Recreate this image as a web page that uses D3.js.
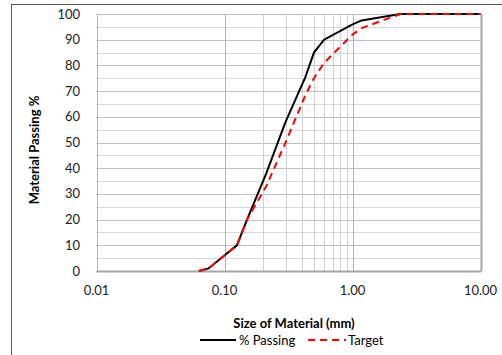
<!DOCTYPE html>
<html>
<head>
<meta charset="utf-8">
<script src="https://cdn.jsdelivr.net/npm/d3@7"></script>
<style>
  body { margin: 0; background: #fff; }
  svg { font-family: Lato, "Open Sans", sans-serif; }
</style>
</head>
<body>
<svg id="chart" width="502" height="355"></svg>
<script>
// sieve sizes (mm) and % passing
const passingSizes = [0.063, 0.075, 0.125, 0.15, 0.212, 0.3, 0.425, 0.5, 0.6, 1.0, 1.18, 2.36, 10]
const passingValues = [0, 1, 10, 20, 38, 58, 75, 85, 90, 96, 97.5, 100, 100]

const targetSizes = [0.063, 0.075, 0.125, 0.15, 0.212, 0.3, 0.425, 0.5, 0.6, 1.0, 1.18, 2.36, 10]
const targetValues = [0, 1, 10, 20, 33, 50, 68, 75, 81, 92, 94.5, 100, 100]

const xTicks = [0.01, 0.1, 1, 10]
const xMinor = [0.2, 0.3, 0.4, 0.5, 0.6, 0.7, 0.8, 0.9]
const yTicks = d3.range(0, 101, 10)
const yMinor = d3.range(5, 100, 10)

const svg = d3.select('#chart')

// outer chart frame
svg.append('rect')
    .attr('x', 11.5).attr('y', 4.5)
    .attr('width', 520).attr('height', 400)
    .attr('fill', 'none')
    .attr('stroke', '#595959')
    .attr('stroke-width', 1)

const x = d3.scaleLog().domain([0.01, 10]).range([96.5, 480.5])
const y = d3.scaleLinear().domain([0, 100]).range([271, 14])

const grid = svg.append('g')

grid.selectAll('.hminor')
    .data(yMinor)
    .enter()
    .append('line')
    .attr('x1', x(0.01)).attr('x2', x(10))
    .attr('y1', (d) => Math.round(y(d)) + 0.5)
    .attr('y2', (d) => Math.round(y(d)) + 0.5)
    .attr('stroke', '#d9d9d9')

grid.selectAll('.hmajor')
    .data(yTicks)
    .enter()
    .append('line')
    .attr('x1', x(0.01)).attr('x2', x(10))
    .attr('y1', (d) => Math.round(y(d)) + 0.5)
    .attr('y2', (d) => Math.round(y(d)) + 0.5)
    .attr('stroke', '#bfbfbf')

grid.selectAll('.vminor')
    .data(xMinor)
    .enter()
    .append('line')
    .attr('x1', (d) => Math.round(x(d)) + 0.5)
    .attr('x2', (d) => Math.round(x(d)) + 0.5)
    .attr('y1', y(0)).attr('y2', y(100))
    .attr('stroke', '#d0d0d0')

grid.selectAll('.vmajor')
    .data(xTicks)
    .enter()
    .append('line')
    .attr('x1', (d) => Math.round(x(d)) + 0.5)
    .attr('x2', (d) => Math.round(x(d)) + 0.5)
    .attr('y1', y(0)).attr('y2', y(100))
    .attr('stroke', (d) => d === 10 ? '#a6a6a6' : '#b0b0b0')
    .attr('stroke-width', (d) => d === 10 ? 2 : 1)

// bottom axis line
svg.append('line')
    .attr('x1', x(0.01)).attr('x2', x(10) + 1)
    .attr('y1', y(0) + 0.5).attr('y2', y(0) + 0.5)
    .attr('stroke', '#a6a6a6')
    .attr('stroke-width', 2)

// tick labels
svg.append('g').selectAll('text')
    .data(yTicks)
    .enter()
    .append('text')
    .attr('x', 80)
    .attr('y', (d) => y(d) + 4.5)
    .attr('text-anchor', 'end')
    .attr('font-size', 13)
    .attr('fill', '#222')
    .text((d) => d)

svg.append('g').selectAll('text')
    .data(xTicks)
    .enter()
    .append('text')
    .attr('x', (d) => x(d))
    .attr('y', 295)
    .attr('text-anchor', 'middle')
    .attr('font-size', 13)
    .attr('fill', '#222')
    .text((d) => d3.format('.2f')(d))

// axis titles
svg.append('text')
    .attr('x', 294)
    .attr('y', 328)
    .attr('text-anchor', 'middle')
    .attr('font-size', 13)
    .attr('font-weight', 'bold')
    .text('Size of Material (mm)')

svg.append('text')
    .attr('transform', 'translate(39, 150) rotate(-90)')
    .attr('text-anchor', 'middle')
    .attr('font-size', 13)
    .attr('font-weight', 'bold')
    .text('Material Passing %')

// curves
const line = d3.line()
    .x((d) => x(d[0]))
    .y((d) => y(d[1]))

svg.append('path')
    .datum(d3.zip(passingSizes, passingValues))
    .attr('d', line)
    .attr('fill', 'none')
    .attr('stroke', '#000')
    .attr('stroke-width', 2)

svg.append('path')
    .datum(d3.zip(targetSizes, targetValues))
    .attr('d', line)
    .attr('fill', 'none')
    .attr('stroke', '#ff0000')
    .attr('stroke-width', 2)
    .attr('stroke-dasharray', '7,5')

// legend
const legend = svg.append('g')
legend.append('line')
    .attr('x1', 200).attr('x2', 236)
    .attr('y1', 340).attr('y2', 340)
    .attr('stroke', '#000').attr('stroke-width', 2)
legend.append('text')
    .attr('x', 239).attr('y', 345)
    .attr('font-size', 13)
    .text('% Passing')
legend.append('line')
    .attr('x1', 308).attr('x2', 346)
    .attr('y1', 340).attr('y2', 340)
    .attr('stroke', '#ff0000').attr('stroke-width', 2)
    .attr('stroke-dasharray', '7,5')
legend.append('text')
    .attr('x', 348).attr('y', 345)
    .attr('font-size', 13)
    .text('Target')
</script>
</body>
</html>
